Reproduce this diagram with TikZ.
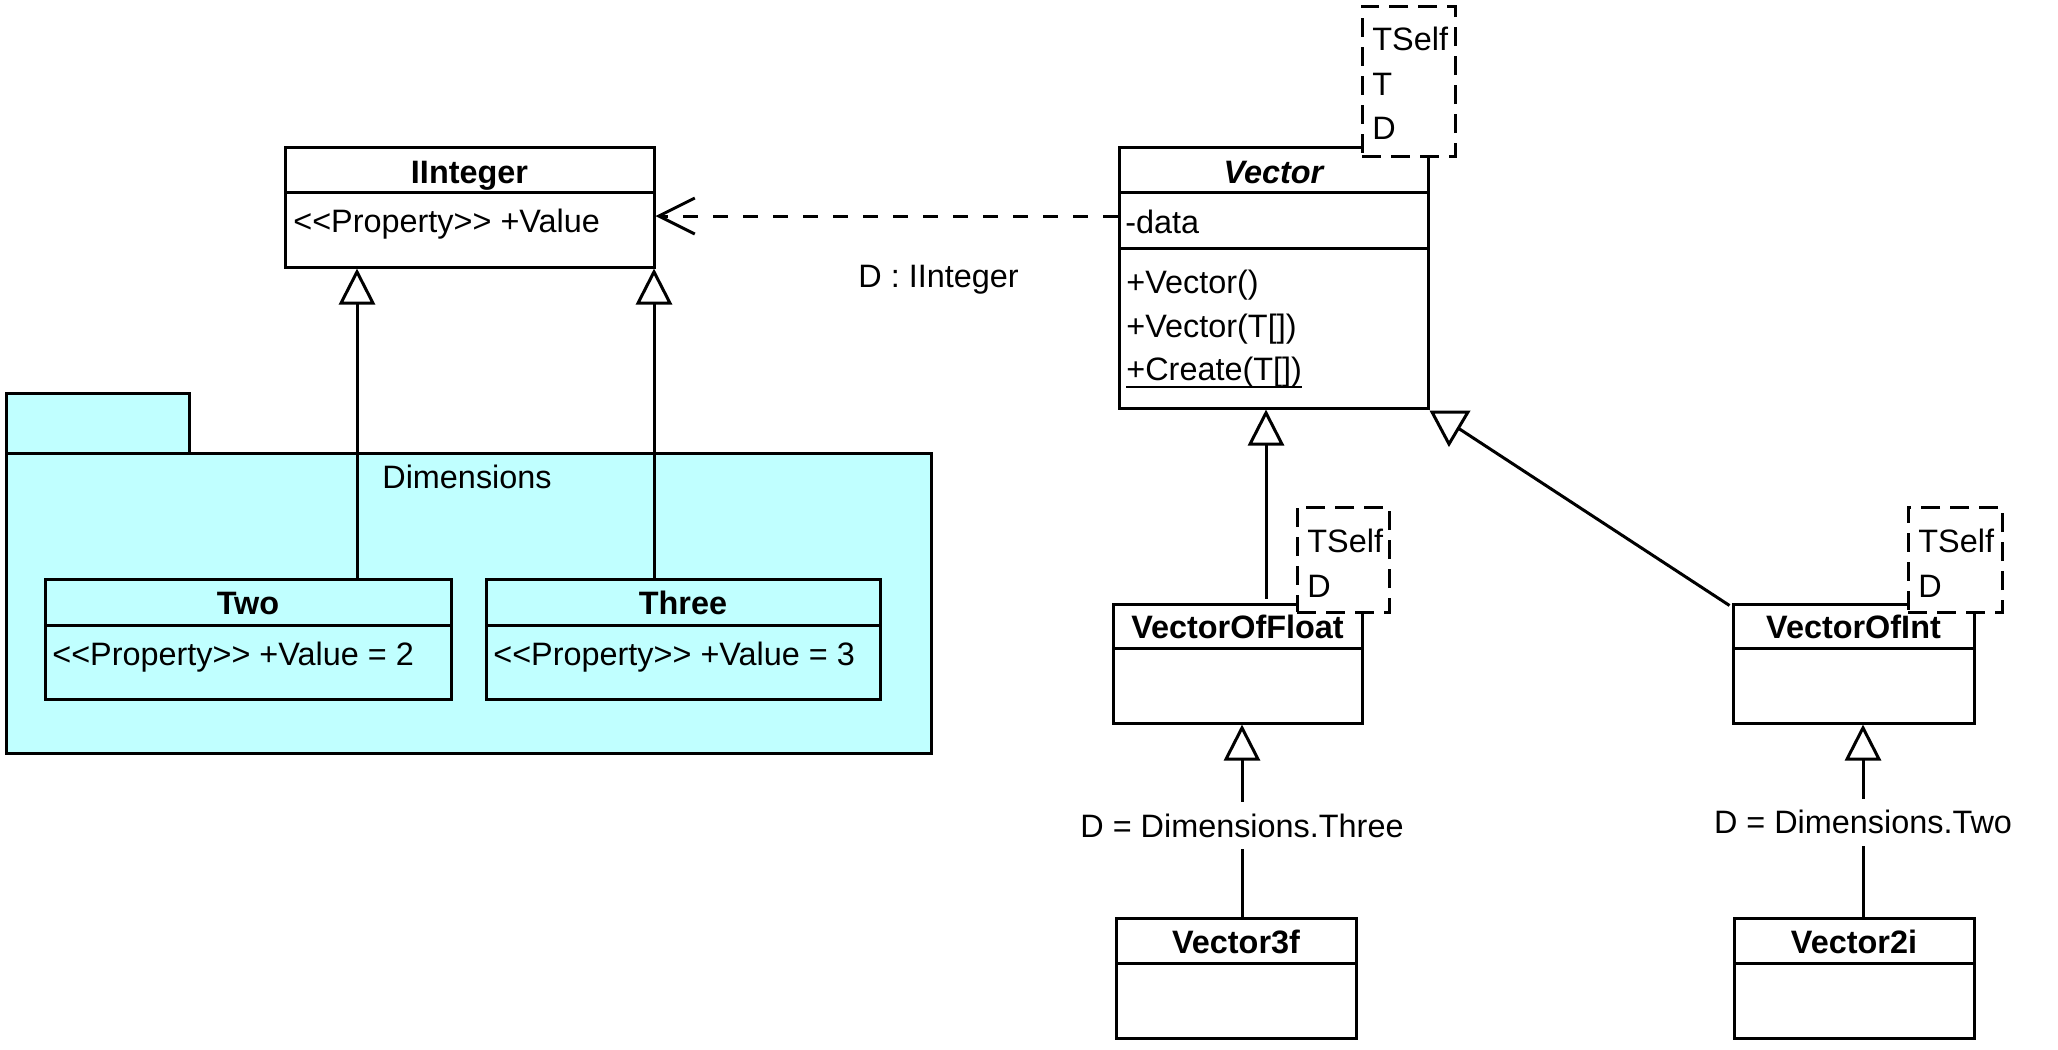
\documentclass[tikz,border=0pt]{standalone}
\usepackage{fontspec}
\setmainfont{Liberation Sans}[Ligatures=TeXOff]
\usetikzlibrary{arrows.meta,fit}
\definecolor{pkg}{RGB}{192,255,255}
\begin{document}
\begin{tikzpicture}[x=0.5pt,y=-0.5pt,
  lw/.style={line width=1.5pt},
  box/.style={draw, lw, inner sep=0pt, fill=white},
  pbox/.style={box, fill=pkg},
  tpl/.style={draw, lw, dash pattern=on 9.5pt off 5pt, fill=white, inner sep=0pt},
  txt/.style={inner sep=0pt, anchor=base west, font=\fontsize{16.2pt}{19pt}\selectfont},
  ttl/.style={inner sep=0pt, anchor=base, font=\fontsize{16.2pt}{19pt}\selectfont\bfseries},
  gen/.style={lw, -{Triangle[open, length=18pt, width=18pt]}},
  dep/.style={lw, dash pattern=on 7.5pt off 7.5pt, -{Straight Barb[length=18pt, width=18pt]}},
  lbl/.style={fill=white, inner xsep=2pt, inner ysep=6pt, font=\fontsize{16.2pt}{19pt}\selectfont, text height=11.5pt, text depth=0pt},
]
\useasboundingbox (0,0) rectangle (2058,1050);

% ---------- package Dimensions ----------
\node[pbox, fit={(6,393) (189,453)}] (tab) {};
\node[pbox, fit={(6,453) (931,753)}] (pkgDim) {};
\node[txt] (dimlbl) at (382,488) {Dimensions};

% Two
\node[pbox, fit={(45,579) (451,699)}] (Two) {};
\draw[lw] (45,625) -- (451,625);
\node[ttl] (twoT) at (248,614) {Two};
\node[txt] (twoA) at (52,665) {<<Property>> +Value = 2};

% Three
\node[pbox, fit={(486,579) (880,699)}] (Three) {};
\draw[lw] (486,625) -- (880,625);
\node[ttl] (threeT) at (683,614) {Three};
\node[txt] (threeA) at (493,665) {<<Property>> +Value = 3};

% ---------- IInteger ----------
\node[box, fit={(285,147) (654,267)}] (IInteger) {};
\draw[lw] (285,192) -- (654,192);
\node[ttl] (iiT) at (469.5,183) {IInteger};
\node[txt] (iiA) at (293,232) {<<Property>> +Value};

% ---------- Vector ----------
\node[box, fit={(1119,147) (1428,408)}] (Vector) {};
\draw[lw] (1119,192) -- (1428,192);
\draw[lw] (1119,248) -- (1428,248);
\node[ttl, font=\fontsize{16.2pt}{19pt}\selectfont\bfseries\itshape] (vT) at (1273.5,183) {Vector};
\node[txt] (vA) at (1125,233) {-data};
\node[txt] (vM1) at (1126,293) {+Vector()};
\node[txt] (vM2) at (1126,337) {+Vector(T[])};
\node[txt] (vM3) at (1126,380) {+Create(T[])};
\draw[line width=1.3pt] ([yshift=-3.5pt]vM3.base west) -- ([yshift=-3.5pt]vM3.base east);
\node[tpl, fit={(1362,6) (1455,156)}] (vTpl) {};
\node[txt] (vP1) at (1372,50) {TSelf};
\node[txt] (vP2) at (1372,95) {T};
\node[txt] (vP3) at (1372,139) {D};

% ---------- VectorOfFloat ----------
\node[box, fit={(1113,604) (1362,723)}] (VectorOfFloat) {};
\draw[lw] (1113,648) -- (1362,648);
\node[ttl] (vfT) at (1237.5,638) {VectorOfFloat};
\node[tpl, fit={(1297,507) (1389,612)}] (vfTpl) {};
\node[txt] (vfP1) at (1307,552) {TSelf};
\node[txt] (vfP2) at (1307,597) {D};

% ---------- VectorOfInt ----------
\node[box, fit={(1733,604) (1974,723)}] (VectorOfInt) {};
\draw[lw] (1733,648) -- (1974,648);
\node[ttl] (viT) at (1853.5,638) {VectorOfInt};
\node[tpl, fit={(1908,507) (2002,612)}] (viTpl) {};
\node[txt] (viP1) at (1918,552) {TSelf};
\node[txt] (viP2) at (1918,597) {D};

% ---------- Vector3f / Vector2i ----------
\node[box, fit={(1116,918) (1356,1038)}] (Vector3f) {};
\draw[lw] (1116,963) -- (1356,963);
\node[ttl] (v3T) at (1236,953) {Vector3f};

\node[box, fit={(1734,918) (1974,1038)}] (Vector2i) {};
\draw[lw] (1734,963) -- (1974,963);
\node[ttl] (v2T) at (1854,953) {Vector2i};

% ---------- connectors ----------
\coordinate (gx1) at (357,0);
\coordinate (gx2) at (654,0);
\coordinate (gx3) at (1266,0);
\coordinate (gx4) at (1242,0);
\coordinate (gx5) at (1863,0);
\coordinate (dy) at (0,216);

\draw[gen] (Two.north -| gx1) -- (IInteger.south -| gx1);
\draw[gen] (Three.north -| gx2) -- (IInteger.south -| gx2);
\draw[dep] (Vector.west |- dy) -- (IInteger.east |- dy);
\node[txt] (deplbl) at (858,287) {D : IInteger};

\draw[gen] ([yshift=2pt]VectorOfFloat.north -| gx3) -- (Vector.south -| gx3);

\coordinate (triR) at (1458,428);
\draw[lw] ([shift={(-1pt,-1.5pt)}]VectorOfInt.north west) -- (triR);
\draw[lw, fill=white, line join=miter] (1432,412) -- (1468,412) -- (1449,444) -- cycle;

\draw[gen] (Vector3f.north -| gx4) -- node[lbl, pos=0.474] (l3) {D = Dimensions.Three} (VectorOfFloat.south -| gx4);
\draw[gen] (Vector2i.north -| gx5) -- node[lbl, pos=0.49] (l2) {D = Dimensions.Two} (VectorOfInt.south -| gx5);
\end{tikzpicture}
\end{document}
